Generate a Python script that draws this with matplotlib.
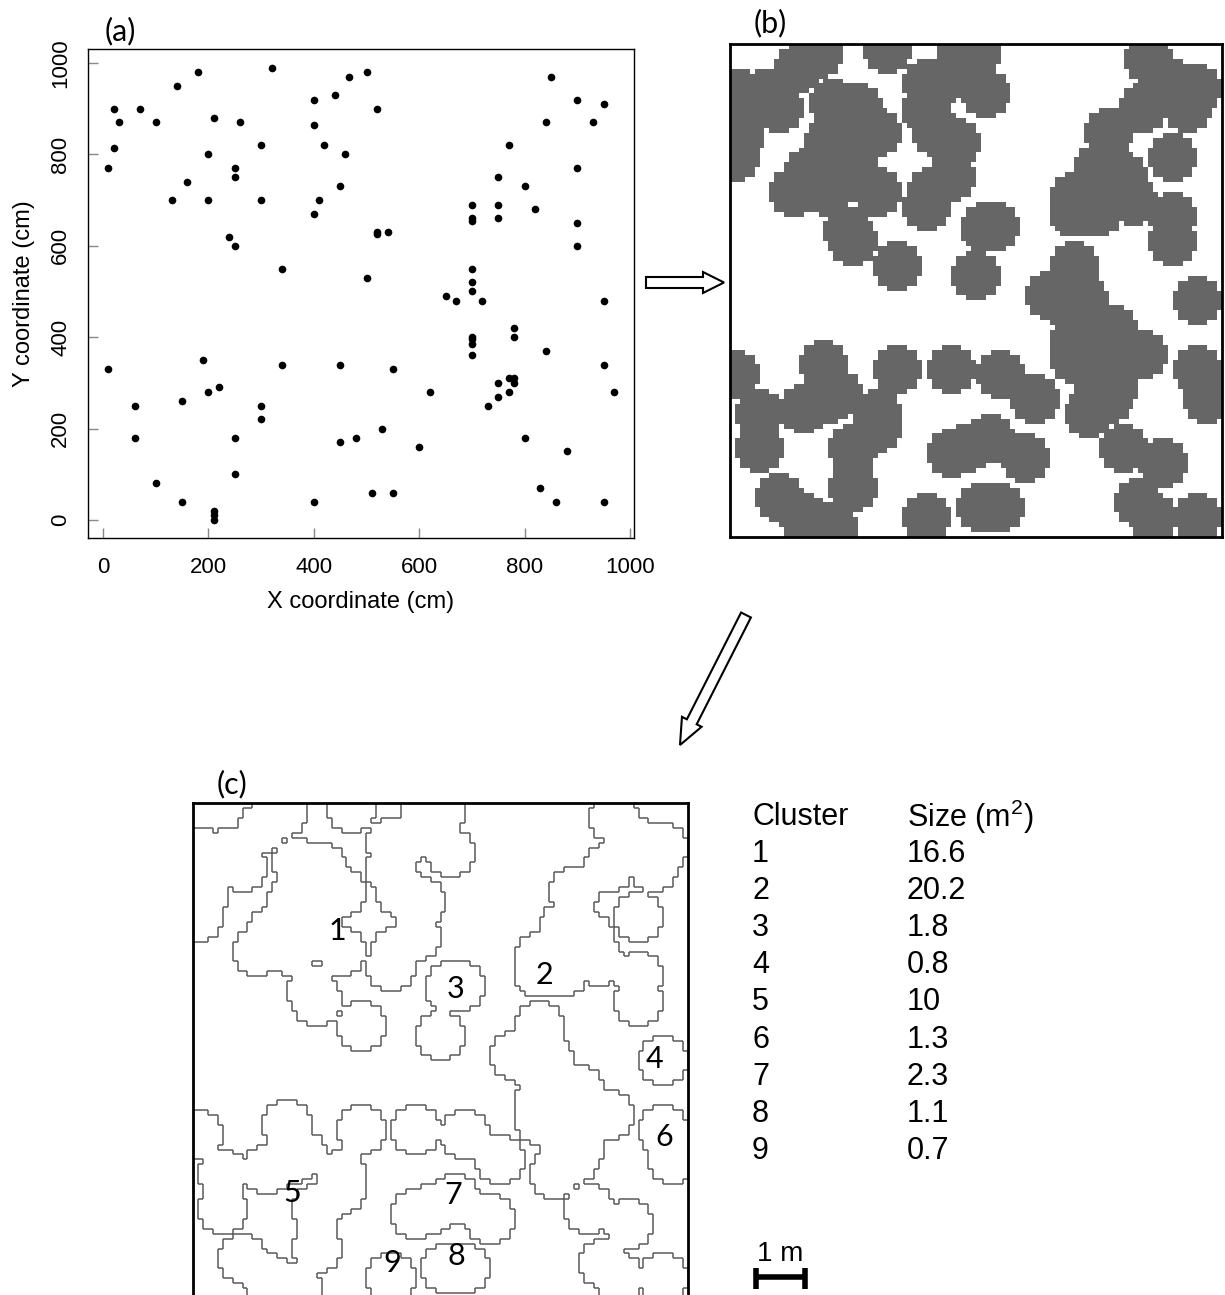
import numpy as np
import matplotlib
matplotlib.use("Agg")
import matplotlib.pyplot as plt
from matplotlib.colors import ListedColormap
from matplotlib.collections import LineCollection
from matplotlib.patches import Polygon

plt.rcParams["font.family"] = ["Liberation Sans", "DejaVu Sans"]
plt.rcParams["mathtext.fontset"] = "custom"
plt.rcParams["mathtext.rm"] = "Liberation Sans"
plt.rcParams["mathtext.it"] = "Liberation Sans:italic"

# Plant positions (cm)
x_cm = [10, 20, 30, 20, 70, 100, 140, 180, 320, 210, 260, 200, 160, 130, 200, 250, 250,
        300, 300, 240, 250, 340, 400, 400, 440, 420, 460, 450, 410, 400, 467, 500, 520,
        850, 900, 950, 840, 930, 770, 900, 750, 800, 700, 750, 820, 700, 700, 750, 900,
        900, 520, 520, 540, 500, 700, 700, 700, 650, 670, 720, 950, 780, 780, 700, 700,
        700, 700, 840, 450, 550, 950, 750, 770, 780, 780, 770, 750, 730, 620, 970, 530,
        480, 450, 600, 800, 880, 510, 550, 830, 860, 950, 10, 190, 340, 60, 150, 200,
        220, 300, 300, 60, 250, 250, 100, 150, 400, 210, 210, 210]
y_cm = [770, 900, 870, 815, 900, 870, 950, 980, 990, 880, 870, 800, 740, 700, 700, 770, 750,
        820, 700, 620, 600, 550, 920, 865, 930, 820, 800, 730, 700, 670, 970, 980, 900,
        970, 920, 910, 870, 870, 820, 770, 750, 730, 690, 690, 680, 660, 655, 660, 650,
        600, 630, 625, 630, 530, 550, 520, 500, 490, 480, 480, 480, 420, 400, 400, 395,
        385, 360, 370, 340, 330, 340, 300, 310, 310, 300, 280, 270, 250, 280, 280, 200,
        180, 170, 160, 180, 150, 60, 60, 70, 40, 40, 330, 350, 340, 250, 260, 280,
        290, 250, 220, 180, 180, 100, 80, 40, 40, 20, 10, 0]

# Canopy grid settings (cm)
plot_size = 1000
cell = 10
radius = 50

# Cluster labels and their sizes
cluster_ids = [1, 2, 3, 4, 5, 6, 7, 8, 9]
cluster_size_m2 = [16.6, 20.2, 1.8, 0.8, 10, 1.3, 2.3, 1.1, 0.7]
label_x = [292, 710, 530, 933, 201, 952, 525, 533, 402]
label_y = [742, 652, 624, 482, 213, 325, 208, 84, 71]

a_xticks = [0, 200, 400, 600, 800, 1000]
a_yticks = [0, 200, 400, 600, 800, 1000]

W, H = 1225, 1295
fig = plt.figure(figsize=(W / 100, H / 100), dpi=100)


def px_axes(x0, y0, x1, y1):
    return fig.add_axes([x0 / W, 1 - y1 / H, (x1 - x0) / W, (y1 - y0) / H])


# ---------------- (a) point map ----------------
ax_a = px_axes(88, 49, 634, 538)
ax_a.plot(x_cm, y_cm, "o", color="black", markersize=5.5, markeredgewidth=0)
ax_a.set_xlim(-28.5, 1007.6)
ax_a.set_ylim(-39.4, 1030.6)
ax_a.set_xticks(a_xticks)
ax_a.set_yticks(a_yticks)
ax_a.tick_params(direction="in", length=7.5, width=1, color="#888888",
                 labelsize=16, pad=14)
ax_a.tick_params(axis="y", pad=12)
for lab in ax_a.get_yticklabels():
    lab.set_rotation(90)
    lab.set_va("center")
for s in ax_a.spines.values():
    s.set_linewidth(1.0)
ax_a.set_xlabel("X coordinate (cm)", fontsize=17, labelpad=9)
ax_a.set_ylabel("Y coordinate (cm)", fontsize=17, labelpad=11)

# ---------------- canopy raster ----------------
n = plot_size // cell
centers = np.arange(n) * cell + cell / 2
gx, gy = np.meshgrid(centers, centers)
px = np.asarray(x_cm, float)
py = np.asarray(y_cm, float)
d2 = (gx[..., None] - px) ** 2 + (gy[..., None] - py) ** 2
mask = (d2.min(axis=-1) <= radius ** 2)

# ---------------- (b) covered cells ----------------
ax_b = px_axes(730, 44, 1222, 537)
ax_b.imshow(mask.astype(int), origin="lower", extent=(0, plot_size, 0, plot_size),
            cmap=ListedColormap(["white", "#666666"]), vmin=0, vmax=1,
            interpolation="nearest", aspect="auto")
ax_b.set_xticks([])
ax_b.set_yticks([])
for s in ax_b.spines.values():
    s.set_linewidth(2.0)

# ---------------- (c) cluster outlines ----------------
ax_c = px_axes(193, 803, 688, 1298)
padded = np.pad(mask, 1, constant_values=False)
segs = []
# vertical edges
vdiff = padded[1:-1, 1:] != padded[1:-1, :-1]
for j, i in zip(*np.nonzero(vdiff)):
    x = i * cell
    segs.append([(x, j * cell), (x, (j + 1) * cell)])
# horizontal edges
hdiff = padded[1:, 1:-1] != padded[:-1, 1:-1]
for j, i in zip(*np.nonzero(hdiff)):
    y = j * cell
    segs.append([(i * cell, y), ((i + 1) * cell, y)])
ax_c.add_collection(LineCollection(segs, colors="#5a5a5a", linewidths=1.1))
ax_c.set_xlim(0, plot_size)
ax_c.set_ylim(0, plot_size)
ax_c.set_xticks([])
ax_c.set_yticks([])
for s in ax_c.spines.values():
    s.set_linewidth(2.0)
for cid, lx, ly in zip(cluster_ids, label_x, label_y):
    ax_c.text(lx, ly, str(cid), ha="center", va="center", fontsize=22,
              family=["Lato", "DejaVu Sans"])

# scale bar (1 m) in plot units
bar_x0, bar_len, bar_y = 1137, 100, 43
ax_c.plot([bar_x0, bar_x0 + bar_len], [bar_y, bar_y], color="black", lw=4,
          clip_on=False, solid_capstyle="butt")
for xe in (bar_x0, bar_x0 + bar_len):
    ax_c.plot([xe, xe], [bar_y - 24, bar_y + 18], color="black", lw=4,
              clip_on=False, solid_capstyle="butt")
ax_c.text(bar_x0 + bar_len / 2, bar_y + 20, "1 m", ha="center", va="bottom",
          fontsize=20, clip_on=False)

# ---------------- overlay: panel tags, table, arrows ----------------
ov = fig.add_axes([0, 0, 1, 1])
ov.set_xlim(0, W)
ov.set_ylim(H, 0)
ov.axis("off")
ov.patch.set_alpha(0)

for tag, tx, ty in (("(a)", 120, 31), ("(b)", 770, 23), ("(c)", 232, 784)):
    ov.text(tx, ty, tag, ha="center", va="center", fontsize=22,
            family=["Lato", "DejaVu Sans"])

col1_x, col2_x = 752, 907
row0_y, row_step = 817, 37.1
ov.text(col1_x, row0_y, "Cluster", ha="left", va="center", fontsize=22)
ov.text(col2_x, row0_y, r"Size (m$^2$)", ha="left", va="center", fontsize=22)
for k, (cid, sz) in enumerate(zip(cluster_ids, cluster_size_m2)):
    yy = row0_y + (k + 1) * row_step
    ov.text(col1_x, yy, str(cid), ha="left", va="center", fontsize=22)
    ov.text(col2_x, yy, f"{sz:g}", ha="left", va="center", fontsize=22)


def hollow_arrow(tail, tip, shaft_w, head_w, head_len):
    t = np.array(tail, float)
    p = np.array(tip, float)
    d = p - t
    L = np.hypot(*d)
    u = d / L
    nrm = np.array([-u[1], u[0]])
    b = p - u * head_len
    verts = [t + nrm * shaft_w / 2, b + nrm * shaft_w / 2, b + nrm * head_w / 2, p,
             b - nrm * head_w / 2, b - nrm * shaft_w / 2, t - nrm * shaft_w / 2]
    ov.add_patch(Polygon(verts, closed=True, facecolor="white", edgecolor="black",
                         lw=1.5, joinstyle="miter"))


hollow_arrow((646, 282.5), (724, 282.5), 11, 21, 21)
hollow_arrow((746, 615), (680, 745), 11, 22, 26)

fig.savefig("out.png", dpi=100)
